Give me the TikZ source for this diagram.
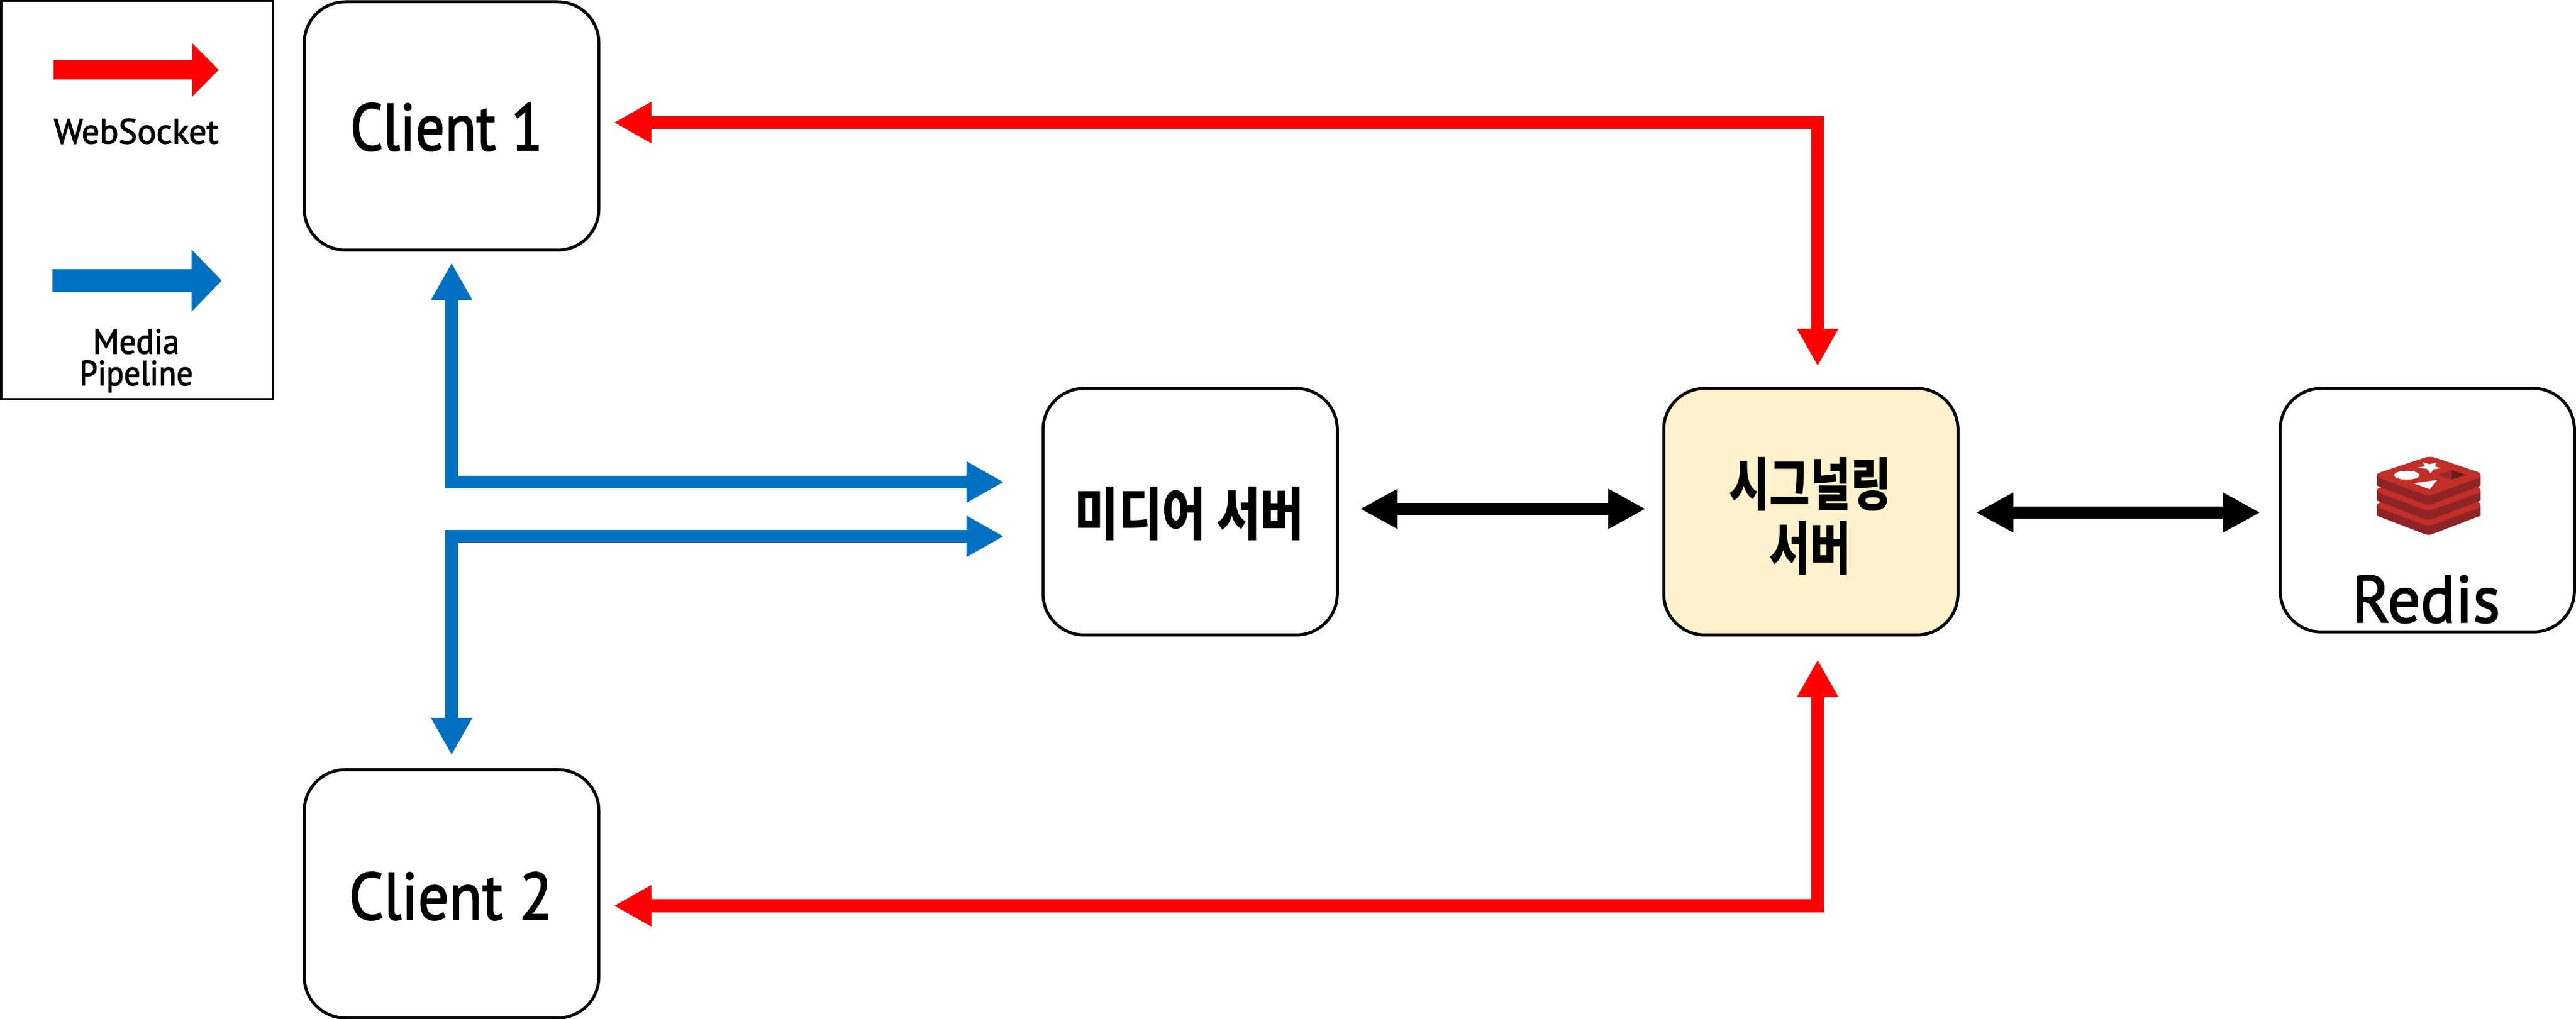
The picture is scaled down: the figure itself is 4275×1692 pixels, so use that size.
\documentclass[tikz,border=0pt]{standalone}
\usepackage{fontspec}
\usetikzlibrary{arrows.meta}
\setmainfont{PT Sans}
\newfontfamily\latfont[FakeBold=2]{PT Sans}
\newfontfamily\krfont{Noto Sans CJK KR}
\definecolor{wsred}{HTML}{FF0000}
\definecolor{mpblue}{HTML}{0070C0}
\definecolor{sigfill}{HTML}{FFF2CC}
\definecolor{rdred}{HTML}{C22E28}
\definecolor{rddark}{HTML}{8E2425}
\definecolor{rdmid}{HTML}{9A2A28}
\definecolor{rddeep}{HTML}{6C1A18}
\newcommand{\bigtext}[2]{\scalebox{#1}[1]{\latfont\fontsize{31.3pt}{36pt}\selectfont #2}}
\newcommand{\krtext}[2]{\scalebox{#1}[1]{\krfont\bfseries\fontsize{27pt}{31pt}\selectfont #2}}
\newcommand{\lgtext}[2]{\scalebox{#1}[1]{\latfont\fontsize{16.5pt}{18pt}\selectfont #2}}
\tikzset{
  x=0.01cm,y=-0.01cm,
  box/.style={draw=black,line width=0.05cm,rounded corners=0.68cm,inner sep=0pt,outer sep=0pt,anchor=north west,fill=white},
  legendbox/.style={draw=black,line width=0.03cm,inner sep=0pt,outer sep=0pt,anchor=north west,fill=white},
  label/.style={inner sep=0pt,outer sep=0pt,align=center},
  redarrow/.style={draw=wsred,line width=0.21cm,line join=miter,{Triangle[length=0.62cm,width=0.64cm]}-{Triangle[length=0.62cm,width=0.64cm]}},
  bluearrow/.style={draw=mpblue,line width=0.21cm,line join=miter,{Triangle[length=0.62cm,width=0.64cm]}-{Triangle[length=0.62cm,width=0.64cm]}},
  blackarrow/.style={draw=black,line width=0.20cm,{Triangle[length=0.62cm,width=0.62cm]}-{Triangle[length=0.62cm,width=0.62cm]}},
  legendred/.style={draw=wsred,line width=0.32cm,-{Triangle[length=0.44cm,width=0.86cm]}},
  legendblue/.style={draw=mpblue,line width=0.38cm,-{Triangle[length=0.50cm,width=1.00cm]}},
}
\begin{document}
\begin{tikzpicture}
\useasboundingbox (0,0) rectangle (4275,1692);
% legend
\node[legendbox,minimum width=4.50cm,minimum height=6.60cm] (legend) at (2,2) {};
\coordinate (lr1) at (89,116);
\coordinate (lr2) at (363,116);
\coordinate (lb1) at (87,466);
\coordinate (lb2) at (368,466);
\draw[legendred] (lr1) -- (lr2);
\draw[legendblue] (lb1) -- (lb2);
\node[label] (lgws) at (226,218) {\lgtext{1.01}{WebSocket}};
\node[label] (lgmedia) at (226,567) {\lgtext{0.95}{Media}};
\node[label] (lgpipe) at (226,625) {\lgtext{0.93}{Pipeline}};
% boxes
\node[box,minimum width=4.885cm,minimum height=4.12cm] (client1) at (505,3) {};
\node[box,minimum width=4.885cm,minimum height=4.12cm] (client2) at (505,1278) {};
\node[box,minimum width=4.88cm,minimum height=4.09cm] (media) at (1731,645) {};
\node[box,fill=sigfill,minimum width=4.88cm,minimum height=4.09cm] (signal) at (2761,645) {};
\node[box,minimum width=4.88cm,minimum height=4.04cm] (redis) at (3784,645) {};
% labels
\node[label] (t1) at (741,211) {\bigtext{0.87}{Client 1}};
\node[label] (t2) at (748,1488) {\bigtext{0.92}{Client 2}};
\node[label] (t3) at (1974,853) {\krtext{0.83}{미디어 서버}};
\node[label] (t4) at (3004,804) {\krtext{0.77}{시그널링}};
\node[label] (t5) at (3004,910) {\krtext{0.77}{서버}};
\node[label] (t6) at (4026,995) {\bigtext{0.98}{Redis}};
% redis logo
\begin{scope}[shift={(3700,620)},x=0.003667cm,y=-0.003333cm]
  \foreach \d in {150,75,0}{
    \fill[rddark] (668,{510+\d}) -- (668,{560+\d}) -- (880,{650+\d}) .. controls (895,{657+\d}) and (908,{657+\d}) .. (922,{650+\d}) -- (1137,{560+\d}) -- (1137,{510+\d}) -- cycle;
    \fill[rdred] (668,{508+\d}) .. controls (668,{500+\d}) and (672,{498+\d}) .. (680,{495+\d}) -- (885,{420+\d}) .. controls (900,{415+\d}) and (915,{415+\d}) .. (930,{420+\d}) -- (1125,{492+\d}) .. controls (1133,{495+\d}) and (1137,{498+\d}) .. (1137,{508+\d}) .. controls (1137,{515+\d}) and (1130,{520+\d}) .. (1120,{525+\d}) -- (925,{603+\d}) .. controls (908,{610+\d}) and (893,{610+\d}) .. (878,{603+\d}) -- (685,{525+\d}) .. controls (675,{520+\d}) and (668,{515+\d}) .. (668,{508+\d}) -- cycle;
  }
  \fill[white] (803,508) ellipse [x radius=58,y radius=22];
  \fill[white] (875,443) -- (905,453) -- (937,445) -- (930,464) -- (958,473) -- (925,479) -- (910,498) -- (895,477) -- (850,471) -- (885,462) -- cycle;
  \fill[white] (833,548) -- (940,532) -- (907,578) -- cycle;
  \fill[rdmid] (938,507) -- (1007,482) -- (1007,532) -- cycle;
  \fill[rddeep] (1007,482) -- (1072,507) -- (1007,530) -- cycle;
\end{scope}
% connectors
\coordinate (rt) at (3016.5,203.5);
\coordinate (rb) at (3016.5,1504);
\coordinate (bt) at (749.5,800.5);
\coordinate (bb) at (749.5,890.5);
\draw[redarrow,shorten <=0.25cm,shorten >=0.37cm] (client1.east |- rt) -- (rt) -- (signal.north -| rt);
\draw[redarrow,shorten <=0.25cm,shorten >=0.41cm] (client2.east |- rb) -- (rb) -- (signal.south -| rb);
\draw[bluearrow,shorten <=0.21cm,shorten >=0.65cm] (client1.south -| bt) -- (bt) -- (media.west |- bt);
\draw[bluearrow,shorten <=0.24cm,shorten >=0.65cm] (client2.north -| bb) -- (bb) -- (media.west |- bb);
\coordinate (k1) at (2400,845);
\coordinate (k2) at (3500,851);
\draw[blackarrow,shorten <=0.38cm,shorten >=0.30cm] (media.east |- k1) -- (signal.west |- k1);
\draw[blackarrow,shorten <=0.30cm,shorten >=0.33cm] (signal.east |- k2) -- (redis.west |- k2);
\end{tikzpicture}
\end{document}
